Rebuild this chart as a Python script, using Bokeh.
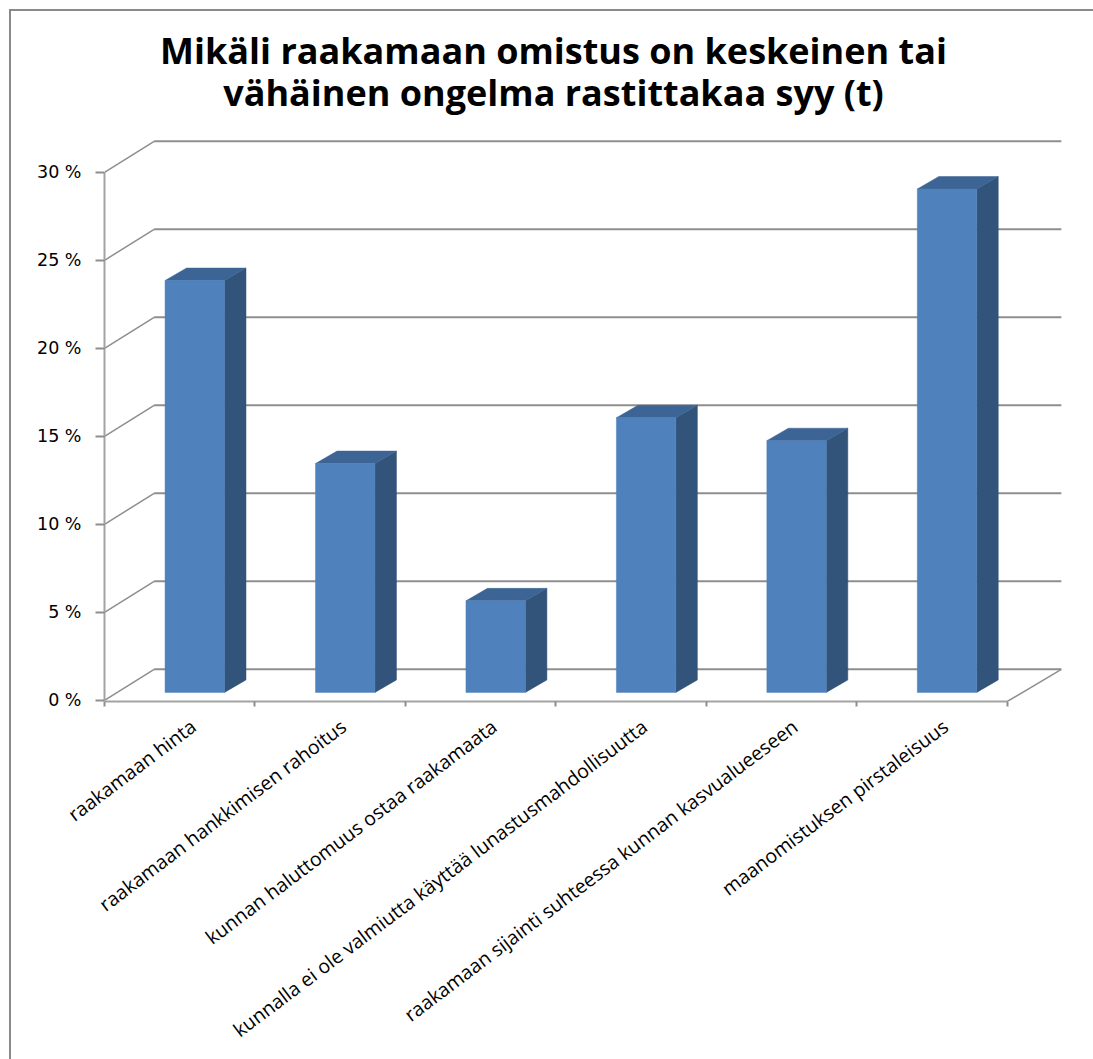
from bokeh.embed import file_html
from bokeh.resources import INLINE
from bokeh.plotting import figure
from bokeh.models import (FixedTicker, Label, LinearAxis,
                          PrintfTickFormatter, Range1d)

categories = [
    "raakamaan hinta",
    "raakamaan hankkimisen rahoitus",
    "kunnan haluttomuus ostaa raakamaata",
    "kunnalla ei ole valmiutta käyttää lunastusmahdollisuutta",
    "raakamaan sijainti suhteessa kunnan kasvualueeseen",
    "maanomistuksen pirstaleisuus",
]
shares = [23.4, 13.0, 5.2, 15.6, 14.3, 28.6]
value_ticks = [0, 5, 10, 15, 20, 25, 30]
title_lines = ["Mikäli raakamaan omistus on keskeinen tai",
               "vähäinen ongelma rastittakaa syy (t)"]

WIDTH, HEIGHT = 1093, 1059
LEFT, BOTTOM = 104, 701
CAT_PX = 150.45      # pixels per category
PCT_PX = 17.6        # pixels per percentage point

# Oblique projection, expressed in data units
WALL_DX_L, WALL_DX_R, WALL_DY = 0.33, 0.36, 1.76
BAR_SHIFT_X, BAR_LIFT = 0.10, 0.45
BAR_WIDTH, BAR_DX, BAR_DY = 0.395, 0.143, 0.71

GRID = "#8e8e8e"
AXIS = "#a3a3a3"
EDGE = "#8a8a8a"
FRONT, SIDE, TOP = "#4f81bd", "#32537a", "#3c6494"

y_start = -1.2 / PCT_PX
p = figure(width=WIDTH, height=HEIGHT, output_backend="svg", toolbar_location=None,
           x_range=Range1d(0, (WIDTH - LEFT) / CAT_PX),
           y_range=Range1d(y_start, y_start + BOTTOM / PCT_PX),
           x_axis_type=None, y_axis_type=None,
           min_border_left=LEFT, min_border_right=0, min_border_top=0,
           min_border_bottom=HEIGHT - BOTTOM)
p.outline_line_color = None
p.grid.visible = False
p.background_fill_color = None
p.border_fill_color = None

# Chart-area frame along the top and left edges, painted behind the canvas
p.styles = {
    "background-color": "white",
    "background-image": f"linear-gradient({EDGE},{EDGE}),linear-gradient({EDGE},{EDGE})",
    "background-repeat": "no-repeat",
    "background-size": "2px 100%,100% 2px",
    "background-position": "9px 9px,9px 9px",
}

# Value axis
y_axis = LinearAxis(ticker=FixedTicker(ticks=value_ticks),
                    formatter=PrintfTickFormatter(format="%d %%"),
                    bounds=(0, 30))
y_axis.axis_line_color = AXIS
y_axis.axis_line_width = 2
y_axis.major_tick_line_color = GRID
y_axis.major_tick_line_width = 2
y_axis.major_tick_out = 9
y_axis.major_tick_in = 0
y_axis.minor_tick_line_color = None
y_axis.major_label_standoff = 14
y_axis.major_label_text_font = "DejaVu Sans"
y_axis.major_label_text_font_size = "17.5px"
y_axis.major_label_text_color = "black"
p.add_layout(y_axis, "left")

# Category axis: the tick marks fall between categories, labels sit mid-category
n = len(categories)
label_ticks = [i + 0.59 for i in range(n)]
x_axis = LinearAxis(ticker=FixedTicker(ticks=label_ticks, minor_ticks=list(range(n + 1))),
                    bounds=(0, n))
x_axis.major_label_overrides = dict(zip(label_ticks, categories))
x_axis.major_label_orientation = 0.646
x_axis.major_tick_line_color = None
x_axis.minor_tick_line_color = GRID
x_axis.minor_tick_line_width = 2
x_axis.minor_tick_out = 5
x_axis.minor_tick_in = 0
x_axis.axis_line_color = AXIS
x_axis.axis_line_width = 2
x_axis.major_label_standoff = 16
x_axis.major_label_text_font = "Open Sans"
x_axis.major_label_text_font_size = "19.5px"
x_axis.major_label_text_color = "black"
p.add_layout(x_axis, "below")

# Back wall rules and left wall diagonals
back_y = [v + WALL_DY for v in value_ticks]
p.segment(x0=[WALL_DX_L] * len(back_y), y0=back_y, x1=[n + WALL_DX_R] * len(back_y), y1=back_y,
          line_color=GRID, line_width=2)
p.segment(x0=[0] * len(value_ticks), y0=value_ticks, x1=[WALL_DX_L] * len(back_y), y1=back_y,
          line_color=GRID, line_width=1.5)
# Right edge of the floor
p.segment(x0=[n], y0=[y_start], x1=[n + WALL_DX_R], y1=[WALL_DY], line_color=GRID, line_width=1.5)

# Bars: side and top faces first, then the front
lefts = [i + 0.5 + BAR_SHIFT_X - BAR_WIDTH / 2 for i in range(n)]
rights = [x + BAR_WIDTH for x in lefts]
tops = [v + BAR_LIFT for v in shares]

side_xs = [[r, r + BAR_DX, r + BAR_DX, r] for r in rights]
side_ys = [[BAR_LIFT, BAR_LIFT + BAR_DY, t + BAR_DY, t] for t in tops]
p.patches(side_xs, side_ys, fill_color=SIDE, line_color=SIDE, line_width=0.5)

top_xs = [[a, b, b + BAR_DX, a + BAR_DX] for a, b in zip(lefts, rights)]
top_ys = [[t, t, t + BAR_DY, t + BAR_DY] for t in tops]
p.patches(top_xs, top_ys, fill_color=TOP, line_color=TOP, line_width=0.5)

p.quad(left=lefts, right=rights, bottom=[BAR_LIFT] * n, top=tops,
       fill_color=FRONT, line_color=FRONT, line_width=0.5)

# Chart heading, two centred lines; screen units count from the frame's lower left corner
for text, sy in zip(title_lines, (50, 92)):
    p.add_layout(Label(x=553 - LEFT, y=BOTTOM - sy, x_units="screen", y_units="screen", text=text,
                       text_font="Open Sans", text_font_style="bold",
                       text_font_size="36px", text_color="black",
                       text_align="center", text_baseline="middle"))

open("out.html", "w").write(file_html(p, INLINE))
